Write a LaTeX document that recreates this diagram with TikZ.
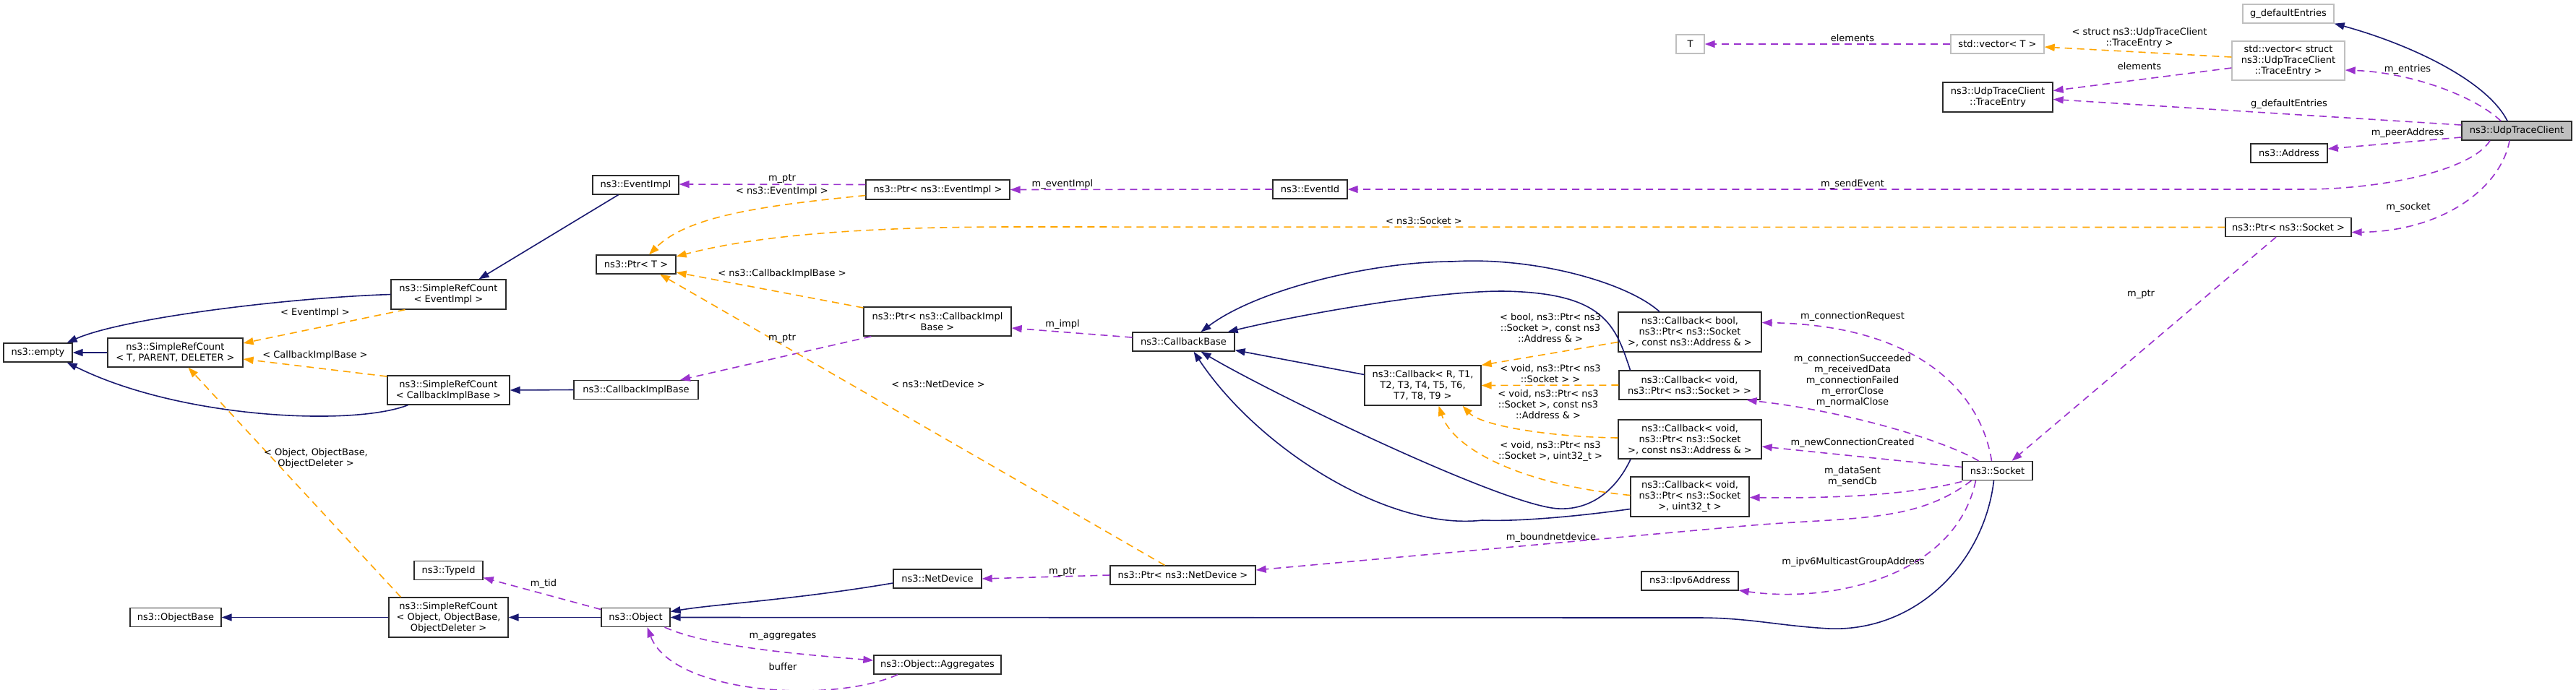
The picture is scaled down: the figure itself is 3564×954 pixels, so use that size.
\documentclass[tikz,border=0pt]{standalone}
\usepackage{fontspec}
\setmainfont{DejaVu Sans}
\usetikzlibrary{arrows.meta}
\definecolor{dxNavy}{HTML}{191970}
\definecolor{dxPurple}{HTML}{9A32CD}
\definecolor{dxOrange}{HTML}{FFA500}
\definecolor{dxGrey}{HTML}{BFBFBF}
\definecolor{dxBorder}{HTML}{2B2B2B}
\newcommand\dxfont{\fontsize{13}{15}\selectfont}

\tikzset{
  cls/.style={draw=dxBorder, line width=1.3pt, fill=white, inner sep=0pt,
    align=center, font=\dxfont},
  extcls/.style={cls, draw=dxGrey},
  focus/.style={cls, fill=dxGrey},
  sz/.style 2 args={minimum width=#1pt, minimum height=#2pt},
  inherit/.style={draw=dxNavy, line width=1.6pt,
    -{Triangle[length=14pt,width=10pt]}},
  member/.style={draw=dxPurple, line width=1.6pt,
    dash pattern=on 10pt off 7pt, -{Triangle[length=14pt,width=10pt]}},
  tmpl/.style={member, draw=dxOrange},
  lbl/.style={inner sep=0pt, align=center, font=\dxfont},
}

\begin{document}
\begin{tikzpicture}[x=1pt, y=-1pt]
\useasboundingbox (0,0) rectangle (3564,954);

% --- CLASS BOXES ---
\node[cls, sz={95}{26}]  (empty)      at (52.5,488)   {ns3::empty};
\node[cls, sz={187}{40}] (srcTPD)     at (242.5,488)  {ns3::SimpleRefCount\\< T, PARENT, DELETER >};
\node[cls, sz={126}{26}] (objBase)    at (243,854.5)  {ns3::ObjectBase};
\node[cls, sz={159}{41}] (srcEvent)   at (620.5,407.5){ns3::SimpleRefCount\\< EventImpl >};
\node[cls, sz={169}{40}] (srcCIB)     at (620.5,540)  {ns3::SimpleRefCount\\< CallbackImplBase >};
\node[cls, sz={95}{26}]  (typeId)     at (620.5,789.5){ns3::TypeId};
\node[cls, sz={165}{55}] (srcObj)     at (620.5,854.5){ns3::SimpleRefCount\\< Object, ObjectBase,\\ObjectDeleter >};
\node[cls, sz={119}{26}] (eventImpl)  at (879.5,256)  {ns3::EventImpl};
\node[cls, sz={110}{26}] (ptrT)       at (880,366)    {ns3::Ptr< T >};
\node[cls, sz={172}{26}] (cbImpl)     at (880,539.5)  {ns3::CallbackImplBase};
\node[cls, sz={95}{26}]  (object)     at (879.5,854.5){ns3::Object};
\node[cls, sz={199}{27}] (ptrEvent)   at (1297.5,262.5){ns3::Ptr< ns3::EventImpl >};
\node[cls, sz={204}{40}] (ptrCIB)     at (1297,445)   {ns3::Ptr< ns3::CallbackImpl\\Base >};
\node[cls, sz={122}{26}] (netDev)     at (1297,801)   {ns3::NetDevice};
\node[cls, sz={176}{26}] (aggr)       at (1297,920)   {ns3::Object::Aggregates};
\node[cls, sz={141}{26}] (cbBase)     at (1637.5,473) {ns3::CallbackBase};
\node[cls, sz={201}{26}] (ptrND)      at (1636.5,796) {ns3::Ptr< ns3::NetDevice >};
\node[cls, sz={103}{26}] (eventId)    at (1812.5,262) {ns3::EventId};
\node[cls, sz={161}{55}] (cbGen)      at (1968.5,533.5){ns3::Callback< R, T1,\\T2, T3, T4, T5, T6,\\T7, T8, T9 >};
\node[cls, sz={198}{55}] (cbBool)     at (2338,459.5) {ns3::Callback< bool,\\ns3::Ptr< ns3::Socket\\>, const ns3::Address \& >};
\node[cls, sz={195}{40}] (cbVoidSock) at (2337.5,533) {ns3::Callback< void,\\ns3::Ptr< ns3::Socket > >};
\node[cls, sz={198}{54}] (cbVoidAddr) at (2338,608)   {ns3::Callback< void,\\ns3::Ptr< ns3::Socket\\>, const ns3::Address \& >};
\node[cls, sz={164}{55}] (cbVoidU32)  at (2338,687.5) {ns3::Callback< void,\\ns3::Ptr< ns3::Socket\\>, uint32\_t >};
\node[cls, sz={134}{26}] (ipv6)       at (2338,804)   {ns3::Ipv6Address};
\node[extcls, sz={39}{26}]  (tT)      at (2338.5,61)  {T};
\node[extcls, sz={129}{26}] (vecT)    at (2763.5,61)  {std::vector< T >};
\node[cls, sz={152}{41}] (traceEntry) at (2764,134.5) {ns3::UdpTraceClient\\::TraceEntry};
\node[cls, sz={97}{26}]  (socket)     at (2763.5,651.5){ns3::Socket};
\node[extcls, sz={126}{26}] (gDefault) at (3166,19)   {g\_defaultEntries};
\node[extcls, sz={156}{54}] (vecEntry) at (3166,84)   {std::vector< struct\\ns3::UdpTraceClient\\::TraceEntry >};
\node[cls, sz={106}{26}] (address)    at (3167,212)   {ns3::Address};
\node[cls, sz={174}{26}] (ptrSock)    at (3166,314.5) {ns3::Ptr< ns3::Socket >};
\node[focus, sz={152}{26}] (udp)      at (3482,181)   {ns3::UdpTraceClient};

% --- INHERITANCE (navy) ---
\draw[inherit] (srcTPD.west) -- (empty.east);
\draw[inherit] (srcEvent.west) .. controls (400,412) and (170,440) .. ([xshift=-8pt]empty.north east);
\draw[inherit] ([xshift=29pt]srcCIB.south west) .. controls (490,590) and (250,580) .. ([xshift=-8pt]empty.south east);
\draw[inherit] ([xshift=-24pt]eventImpl.south) -- ([xshift=42pt]srcEvent.north);
\draw[inherit] (cbImpl.west) -- (srcCIB.east);
\draw[inherit] (srcObj.west) -- (objBase.east);
\draw[inherit] (object.west) -- (srcObj.east);
\draw[inherit] ([yshift=-6pt]netDev.west) .. controls (1100,830) and (990,836) .. ([yshift=8pt]object.east);
\draw[inherit] ([xshift=-5pt]socket.south) .. controls (2745,780) and (2650,875) .. (2530,870)
  .. controls (2460,866) and (2420,855) .. (2350,855) -- (object.east);
\draw[inherit] ([yshift=15pt]cbGen.west) -- ([yshift=2pt]cbBase.south east);
\draw[inherit] ([xshift=-42pt]cbBool.north) .. controls (2250,390) and (2120,355) .. (2009,362)
  .. controls (1900,362) and (1740,400) .. ([xshift=24pt]cbBase.north);
\draw[inherit] ([xshift=-82pt]cbVoidSock.north) .. controls (2235,450) and (2220,405) .. (2079,403)
  .. controls (1980,403) and (1800,435) .. ([xshift=-10pt]cbBase.north east);
\draw[inherit] ([xshift=-82pt]cbVoidAddr.south) .. controls (2235,680) and (2200,706) .. (2156,704)
  .. controls (2080,700) and (1760,545) .. ([xshift=24pt]cbBase.south);
\draw[inherit] ([yshift=-17pt]cbVoidU32.west) .. controls (2180,715) and (2100,722) .. (2051,720)
  .. controls (1920,735) and (1740,620) .. ([xshift=14pt]cbBase.south);
\draw[inherit] ([xshift=-13pt]udp.north) .. controls (3440,110) and (3330,60) .. (gDefault.south east);

% --- MEMBERS (purple) ---
\draw[member] (vecT.west) -- (tT.east);
\draw[member] ([yshift=-10pt]vecEntry.west) -- ([yshift=9pt]traceEntry.east);
\draw[member] ([xshift=-22pt]udp.north) .. controls (3420,130) and (3330,100) .. ([yshift=-13pt]vecEntry.east);
\draw[member] ([yshift=8pt]udp.west) -- ([yshift=-3pt]traceEntry.east);
\draw[member] ([yshift=-9pt]udp.west) -- ([yshift=6pt]address.east);
\draw[member] ([xshift=-37pt]udp.south) .. controls (3420,235) and (3300,262) .. (3186,262) -- (eventId.east);
\draw[member] ([xshift=-10pt]udp.south) .. controls (3460,260) and (3380,320) .. ([yshift=-7pt]ptrSock.east);
\draw[member] (eventId.west) -- (ptrEvent.east);
\draw[member] ([yshift=7pt]ptrEvent.west) -- ([yshift=1pt]eventImpl.east);
\draw[member] ([yshift=6pt]cbBase.west) -- ([yshift=-9pt]ptrCIB.east);
\draw[member] ([xshift=11pt]ptrCIB.south west) -- ([xshift=61pt]cbImpl.north);
\draw[member] (ptrND.west) -- (netDev.east);
\draw[member] ([yshift=11pt]object.west) -- ([yshift=-10pt]typeId.east);
\draw[member] ([xshift=40pt]object.south) .. controls (980,895) and (1100,905) .. ([yshift=6pt]aggr.west);
\draw[member] ([xshift=-55pt]aggr.south) .. controls (1150,975) and (930,960) .. ([xshift=16pt]object.south);
\draw[member] ([xshift=-17pt]ptrSock.south) -- ([xshift=20pt]socket.north);
\draw[member] ([xshift=-8pt]socket.north) .. controls (2740,540) and (2650,450) .. ([yshift=13pt]cbBool.east);
\draw[member] ([xshift=-26pt]socket.north) .. controls (2690,610) and (2560,570) .. ([xshift=-19pt]cbVoidSock.south east);
\draw[member] ([yshift=5pt]socket.west) -- ([yshift=-10pt]cbVoidAddr.east);
\draw[member] ([yshift=-15pt]socket.west) .. controls (2640,685) and (2540,690) .. ([yshift=-1pt]cbVoidU32.east);
\draw[member] ([xshift=-36pt]socket.south) .. controls (2650,725) and (2560,715) .. (2413,728) -- ([yshift=7pt]ptrND.east);
\draw[member] ([xshift=-30pt]socket.south) .. controls (2705,800) and (2530,835) .. ([yshift=-13pt]ipv6.east);

% --- TEMPLATE INSTANCES (orange) ---
\draw[tmpl] ([yshift=5pt]vecEntry.west) -- ([yshift=-4pt]vecT.east);
\draw[tmpl] (ptrSock.west) -- (1400,314) .. controls (1200,314) and (1050,325) .. ([yshift=11pt]ptrT.east);
\draw[tmpl] ([yshift=-8pt]ptrEvent.west) .. controls (1050,285) and (950,300) .. ([xshift=18pt]ptrT.north);
\draw[tmpl] ([yshift=19pt]ptrCIB.west) -- ([yshift=-11pt]ptrT.east);
\draw[tmpl] ([xshift=-25pt]ptrND.north) -- ([xshift=33pt]ptrT.south);
\draw[tmpl] ([xshift=-60pt]srcEvent.south) -- ([yshift=13pt]srcTPD.east);
\draw[tmpl] ([yshift=19pt]srcCIB.west) -- ([yshift=-9pt]srcTPD.east);
\draw[tmpl] ([xshift=-66pt]srcObj.north) -- ([xshift=18pt]srcTPD.south);
\draw[tmpl] ([yshift=-14pt]cbBool.west) -- (cbGen.north east);
\draw[tmpl] (cbVoidSock.west) -- (cbGen.east);
\draw[tmpl] ([yshift=2pt]cbVoidAddr.west) .. controls (2150,605) and (2050,590) .. ([xshift=55pt]cbGen.south);
\draw[tmpl] ([yshift=2pt]cbVoidU32.west) .. controls (2100,670) and (2010,620) .. ([xshift=22pt]cbGen.south);

% --- EDGE LABELS ---
\foreach \nm/\x/\y/\txt in {
  lElemT/2563/53/{elements},
  lElemEntry/2960/92/{elements},
  lEntries/3331/96/{m\_entries},
  lDefEntries/3167/144/{g\_defaultEntries},
  lPeerAddr/3331/184/{m\_peerAddress},
  lSendEvent/2563/255/{m\_sendEvent},
  lSocket/3332/287/{m\_socket},
  lSockT/1970/306/{< ns3::Socket >},
  lPtrSock/2962/407/{m\_ptr},
  lPtrEvent/1082/247/{m\_ptr},
  lEventT/1082/265/{< ns3::EventImpl >},
  lEventImpl/1470/255/{m\_eventImpl},
  lCibT/1082/379/{< ns3::CallbackImplBase >},
  lImpl/1470/449/{m\_impl},
  lPtrCib/1082/468/{m\_ptr},
  lNetDevT/1298/532/{< ns3::NetDevice >},
  lSrcEventT/436/433/{< EventImpl >},
  lSrcCibT/436/492/{< CallbackImplBase >},
  lTid/752/808/{m\_tid},
  lPtrNetDev/1470/791/{m\_ptr},
  lAggr/1083/880/{m\_aggregates},
  lBuffer/1083/923/{buffer},
  lConnReq/2563/438/{m\_connectionRequest},
  lNewConn/2563/613/{m\_newConnectionCreated},
  lBoundDev/2146/744/{m\_boundnetdevice},
  lIpv6/2564/778/{m\_ipv6MulticastGroupAddress}%
} {
  \node[lbl] (\nm) at (\x,\y) {\txt};
}
\node[lbl] (lStructT)  at (2960,52)  {< struct ns3::UdpTraceClient\\::TraceEntry >};
\node[lbl] (lObjT)     at (437,634)  {< Object, ObjectBase,\\ObjectDeleter >};
\node[lbl] (lBoolT)    at (2145,454) {< bool, ns3::Ptr< ns3\\::Socket >, const ns3\\::Address \& >};
\node[lbl] (lVoidSockT) at (2145,517) {< void, ns3::Ptr< ns3\\::Socket > >};
\node[lbl] (lVoidAddrT) at (2142,560) {< void, ns3::Ptr< ns3\\::Socket >, const ns3\\::Address \& >};
\node[lbl] (lVoidU32T) at (2145,625) {< void, ns3::Ptr< ns3\\::Socket >, uint32\_t >};
\node[lbl] (lConnSucc) at (2563,527) {m\_connectionSucceeded\\m\_receivedData\\m\_connectionFailed\\m\_errorClose\\m\_normalClose};
\node[lbl] (lDataSent) at (2563,660) {m\_dataSent\\m\_sendCb};

\end{tikzpicture}
\end{document}
